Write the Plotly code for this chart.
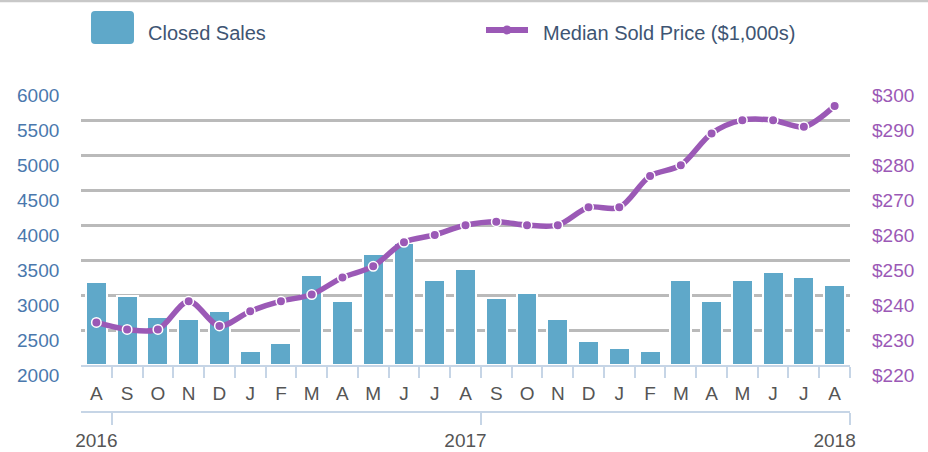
import plotly.graph_objects as go

# ---------------- data ----------------
months = ["A", "S", "O", "N", "D", "J", "F", "M", "A", "M", "J", "J", "A",
          "S", "O", "N", "D", "J", "F", "M", "A", "M", "J", "J", "A"]
closed_sales = [3190, 2995, 2695, 2655, 2770, 2200, 2315, 3295, 2920, 3596,
                3750, 3220, 3372, 2956, 3032, 2655, 2348, 2240, 2200, 3220,
                2922, 3220, 3334, 3258, 3143]
median_price = [232.2, 230.2, 230.2, 238.3, 231.2, 235.4, 238.3, 240.2, 245.1,
                248.3, 255.2, 257.3, 260.1, 261.1, 260.1, 260.1, 265.2, 265.2,
                274.2, 277.3, 286.4, 290.2, 290.2, 288.3, 294.3]
years = ["2016", "2017", "2018"]
year_index = [0, 12, 24]
left_ticks = [2000, 2500, 3000, 3500, 4000, 4500, 5000, 5500, 6000]
right_ticks = [220, 230, 240, 250, 260, 270, 280, 290, 300]
series_names = ["Closed Sales", "Median Sold Price ($1,000s)"]

# ---------------- styling ----------------
W, H = 928, 452
FONT = "Liberation Sans, Arial, Helvetica, sans-serif"
BAR = "#5fa8c9"
PURPLE = "#9b59b6"
GRID = "#bababa"
AXIS = "#c6d5e6"
LEFT_COL = "#4a78ad"
TEXT_COL = "#555555"
LEG_COL = "#3e5573"


def px(x):
    return x / W


def py(y):
    return 1 - y / H


n = len(months)
xs = list(range(n))

fig = go.Figure()
fig.add_trace(go.Bar(
    x=xs, y=[v - 2000 for v in closed_sales], base=2000, width=0.68,
    marker=dict(color=BAR, line=dict(color="white", width=2)),
    name=series_names[0], xaxis="x", yaxis="y", showlegend=False,
    hoverinfo="skip"))
fig.add_trace(go.Scatter(
    x=xs, y=median_price, mode="lines+markers", name=series_names[1],
    line=dict(color=PURPLE, width=5.5, shape="spline", smoothing=0.9),
    marker=dict(color=PURPLE, size=9.5, line=dict(color="white", width=1.5)),
    xaxis="x2", yaxis="y2", showlegend=False, hoverinfo="skip"))

xdom = [px(81), px(850)]
ydom = [py(365), py(86)]
xr = [-0.5, n - 0.5]

shapes = [
    dict(type="line", xref="paper", yref="paper", x0=0, x1=1, y0=py(1), y1=py(1),
         line=dict(color="#c8c8c8", width=2.5)),
]

# legend: rounded swatch
x0, x1, y0, y1, r = 91, 134, 11, 44, 4


def P(x, y):
    return f"{px(x):.5f},{py(y):.5f}"


path = (f"M {P(x0 + r, y0)} L {P(x1 - r, y0)} Q {P(x1, y0)} {P(x1, y0 + r)} "
        f"L {P(x1, y1 - r)} Q {P(x1, y1)} {P(x1 - r, y1)} L {P(x0 + r, y1)} "
        f"Q {P(x0, y1)} {P(x0, y1 - r)} L {P(x0, y0 + r)} Q {P(x0, y0)} {P(x0 + r, y0)} Z")
shapes.append(dict(type="path", xref="paper", yref="paper", path=path,
                   fillcolor=BAR, line=dict(width=0)))
shapes.append(dict(type="line", xref="paper", yref="paper", x0=px(486), x1=px(528),
                   y0=py(30), y1=py(30), line=dict(color=PURPLE, width=6)))
shapes.append(dict(type="circle", xref="paper", yref="paper", x0=px(502.5), x1=px(511.5),
                   y0=py(34.5), y1=py(25.5), fillcolor=PURPLE, line=dict(width=0)))

annotations = [
    dict(text=series_names[0], xref="paper", yref="paper", x=px(146), y=py(33),
         xanchor="left", yanchor="middle", showarrow=False,
         font=dict(family=FONT, size=20, color=LEG_COL)),
    dict(text=series_names[1], xref="paper", yref="paper", x=px(541), y=py(33),
         xanchor="left", yanchor="middle", showarrow=False,
         font=dict(family=FONT, size=20, color=LEG_COL)),
]
for v in left_ticks:
    annotations.append(dict(text=str(v), xref="paper", yref="y", x=px(61), y=v,
                            xanchor="right", yanchor="middle", yshift=-10, showarrow=False,
                            font=dict(family=FONT, size=19, color=LEFT_COL)))
for v in right_ticks:
    annotations.append(dict(text=f"${v}", xref="paper", yref="y2", x=px(870), y=v,
                            xanchor="left", yanchor="middle", yshift=-10, showarrow=False,
                            font=dict(family=FONT, size=19, color=PURPLE)))

fig.update_layout(
    template="none",
    width=W, height=H, margin=dict(l=0, r=0, t=0, b=0, pad=0, autoexpand=False),
    paper_bgcolor="white", plot_bgcolor="white",
    font=dict(family=FONT, size=19, color=TEXT_COL),
    showlegend=False, bargap=0,
    shapes=shapes, annotations=annotations,
    xaxis=dict(domain=xdom, range=xr, anchor="y", showgrid=False, zeroline=False,
               automargin=False,
               showline=True, linecolor=AXIS, linewidth=2,
               tickmode="array", tickvals=xs, ticktext=months, ticks="",
               ticklabelstandoff=10,
               tickfont=dict(family=FONT, size=19, color=TEXT_COL),
               minor=dict(tickmode="array", tickvals=[i + 0.5 for i in range(n)],
                          ticks="outside", ticklen=11, tickwidth=2, tickcolor=AXIS,
                          showgrid=False)),
    xaxis2=dict(overlaying="x", range=xr, anchor="free", position=py(412), side="bottom",
                automargin=False,
                showgrid=False, zeroline=False, showline=True, linecolor=AXIS, linewidth=2,
                tickmode="array", tickvals=year_index, ticktext=years, ticks="",
                ticklabelstandoff=11,
                tickfont=dict(family=FONT, size=19, color=TEXT_COL),
                minor=dict(tickmode="array", tickvals=[year_index[0] + 0.5,
                                                       year_index[1] + 0.5,
                                                       year_index[2] + 0.5],
                           ticks="outside", ticklen=12, tickwidth=2, tickcolor=AXIS,
                           showgrid=False)),
    yaxis=dict(domain=ydom, range=[left_ticks[0], left_ticks[-1]], anchor="x",
               automargin=False,
               tickmode="array", tickvals=left_ticks[1:], showticklabels=False,
               showgrid=True, gridcolor=GRID, gridwidth=2.5, zeroline=False, showline=False,
               ticks=""),
    yaxis2=dict(overlaying="y", side="right", anchor="x", automargin=False,
                range=[right_ticks[0], right_ticks[-1]], showgrid=False,
                showticklabels=False, zeroline=False, showline=False, ticks=""),
)

fig.write_html(
    "out.html",
    config={"displayModeBar": False, "responsive": False},
    post_script="document.body.style.margin='0';document.body.style.overflow='hidden';",
)
